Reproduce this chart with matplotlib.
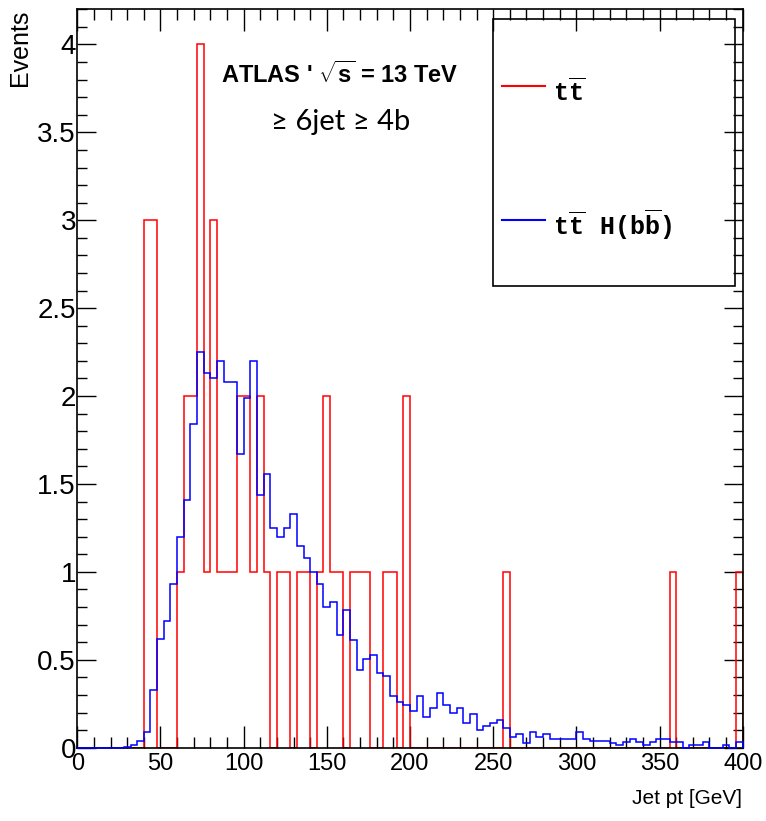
import numpy as np
import matplotlib
matplotlib.use("Agg")
import matplotlib.pyplot as plt
from matplotlib.patches import Rectangle
from matplotlib.ticker import MultipleLocator, FormatStrFormatter

# histogram binning: 100 bins of 4 GeV between 0 and 400
bin_edges = np.arange(0, 404, 4)

# tt (red) bin contents
ttbar = [0, 0, 0, 0, 0, 0, 0, 0, 0, 0,
         3, 3, 0, 0, 0, 1, 2, 2, 4, 1,
         3, 1, 1, 1, 2, 2, 1, 2, 1, 0,
         1, 1, 0, 1, 1, 0, 1, 2, 1, 1,
         0, 1, 1, 1, 0, 0, 1, 1, 0, 2,
         0, 0, 0, 0, 0, 0, 0, 0, 0, 0,
         0, 0, 0, 0, 1, 0, 0, 0, 0, 0,
         0, 0, 0, 0, 0, 0, 0, 0, 0, 0,
         0, 0, 0, 0, 0, 0, 0, 0, 0, 1,
         0, 0, 0, 0, 0, 0, 0, 0, 0, 1]

# ttH(bb) (blue) bin contents
tth = [0, 0, 0, 0, 0, 0, 0, 0.005, 0.015, 0.04,
       0.09, 0.33, 0.62, 0.72, 0.93, 1.20, 1.41, 1.84, 2.25, 2.13,
       2.10, 2.20, 2.08, 2.08, 1.67, 1.99, 2.20, 1.44, 1.555, 1.25,
       1.20, 1.25, 1.33, 1.15, 1.08, 1.00, 0.93, 0.80, 0.83, 0.64,
       0.785, 0.615, 0.44, 0.505, 0.525, 0.427, 0.405, 0.296, 0.26, 0.245,
       0.21, 0.296, 0.175, 0.224, 0.31, 0.245, 0.197, 0.224, 0.142, 0.193,
       0.10, 0.125, 0.14, 0.16, 0.112, 0.063, 0.077, 0.027, 0.092, 0.062,
       0.077, 0.05, 0.05, 0.05, 0.05, 0.091, 0.05, 0.038, 0.038, 0.038,
       0.027, 0.015, 0.03, 0.05, 0.03, 0.015, 0.03, 0.05, 0.05, 0.03,
       0.03, 0, 0.015, 0.015, 0.03, 0, 0, 0.015, 0, 0.03]

labels = [r'$\mathtt{t\overline{t}}$', r'$\mathtt{t\overline{t}\ \ H(b\overline{b})}$']
colors = ['#ff0000', '#0000ff']

plt.rcParams['font.family'] = ['Liberation Sans', 'DejaVu Sans']
plt.rcParams['mathtext.fontset'] = 'custom'
plt.rcParams['mathtext.tt'] = 'Liberation Mono:bold'
plt.rcParams['mathtext.rm'] = 'Liberation Sans:bold'
plt.rcParams['mathtext.bf'] = 'Liberation Sans:bold'

fig = plt.figure(figsize=(7.66, 8.21), dpi=100)
ax = fig.add_axes([0.1009, 0.0893, 0.8687, 0.8994])

ax.stairs(ttbar, bin_edges, color=colors[0], lw=1.1, zorder=2)
ax.stairs(tth, bin_edges, color=colors[1], lw=1.1, zorder=3, clip_on=False)

ax.set_xlim(0, 400)
ax.set_ylim(0, 4.2)

ax.xaxis.set_major_locator(MultipleLocator(50))
ax.xaxis.set_minor_locator(MultipleLocator(10))
ax.yaxis.set_major_locator(MultipleLocator(0.5))
ax.yaxis.set_minor_locator(MultipleLocator(0.1))
ax.yaxis.set_major_formatter(FormatStrFormatter('%g'))

ax.tick_params(which='both', direction='in', top=True, right=True, width=1, color='black')
ax.tick_params(axis='x', which='major', length=16, labelsize=17, pad=4)
ax.tick_params(axis='x', which='minor', length=8)
ax.tick_params(axis='y', which='major', length=14, labelsize=20, pad=1)
ax.tick_params(axis='y', which='minor', length=7)
for sp in ax.spines.values():
    sp.set_linewidth(1.2)

fig.text(0.026, 0.988, 'Events', rotation=90, ha='center', va='top', fontsize=18)
fig.text(0.969, 0.027, 'Jet pt [GeV]', ha='right', va='center', fontsize=15)

ax.text(0.395, 0.911, "ATLAS ' $\\sqrt{\\mathbf{s}}$ = 13 TeV", transform=ax.transAxes,
        ha='center', va='center', fontsize=17, fontweight='bold')
ax.text(0.395, 0.847, '\u2265 6jet \u2265 4b', transform=ax.transAxes,
        ha='center', va='center', fontsize=21, family=['Lato', 'DejaVu Sans'])

# legend box
ax.add_patch(Rectangle((0.625, 0.6253), 0.3634, 0.3612, transform=ax.transAxes,
                       fill=False, edgecolor='black', lw=1.2, zorder=5))
row_y = [0.896, 0.7147]
for lab, col, yy in zip(labels, colors, row_y):
    ax.plot([0.639, 0.703], [yy, yy], transform=ax.transAxes, color=col, lw=1.5)
    ax.text(0.715, yy - 0.007, lab, transform=ax.transAxes, ha='left', va='center', fontsize=18)

fig.savefig('out.png', dpi=100)
